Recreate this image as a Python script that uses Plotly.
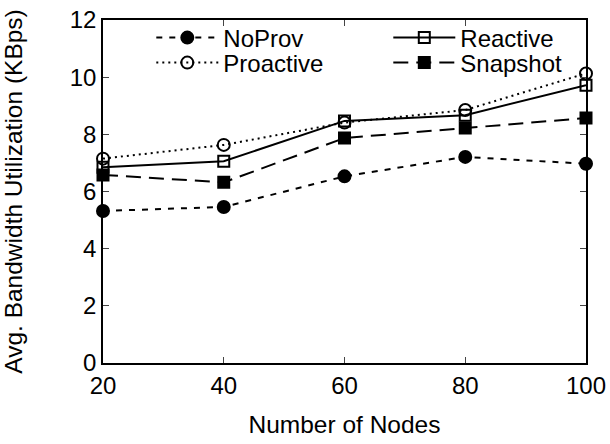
import plotly.graph_objects as go

nodes = [20, 40, 60, 80, 100]
noprov = [5.32, 5.46, 6.53, 7.21, 6.97]
reactive = [6.85, 7.06, 8.47, 8.67, 9.72]
proactive = [7.15, 7.63, 8.41, 8.85, 10.13]
snapshot = [6.58, 6.32, 7.87, 8.22, 8.57]

fig = go.Figure()
series = [
    ("NoProv", noprov, "6px,7px", "circle", 12, "legend"),
    ("Reactive", reactive, "solid", "square-open", 11, "legend"),
    ("Proactive", proactive, "2px,4px", "circle-open", 12, "legend2"),
    ("Snapshot", snapshot, "15px,8px", "square", 11, "legend2"),
]
for name, ys, dash, sym, sz, lg in series:
    fig.add_trace(go.Scatter(
        x=nodes, y=ys, name=name, mode="lines+markers", legend=lg,
        line=dict(color="black", width=2, dash=dash),
        marker=dict(symbol=sym, size=sz, color="black",
                    line=dict(color="black", width=2)),
        cliponaxis=False,
    ))

font = "Liberation Sans, Arial, sans-serif"
leg = dict(orientation="h", x=0.1, xanchor="left", yanchor="middle",
           entrywidth=160, entrywidthmode="pixels",
           font=dict(size=24), bgcolor="rgba(0,0,0,0)",
           itemwidth=62, tracegroupgap=0)
fig.update_layout(
    width=610, height=444,
    margin=dict(l=103, r=24, t=20, b=81, autoexpand=False),
    plot_bgcolor="white", paper_bgcolor="white",
    font=dict(family=font, size=24, color="black"),
    showlegend=True,
    legend=dict(leg, y=0.9475),
    legend2=dict(leg, y=0.8746),
    xaxis=dict(range=[20, 100], tickvals=nodes, ticks="inside", ticklen=6,
               showline=True, linecolor="black", linewidth=1.5, mirror="ticks",
               showgrid=False, zeroline=False, ticklabeloverflow="allow",
               automargin=False,
               title=dict(text="Number of Nodes", standoff=18,
                          font=dict(size=24.5)),
               tickfont=dict(size=24)),
    yaxis=dict(range=[0, 12], dtick=2, ticks="inside", ticklen=6,
               showline=True, linecolor="black", linewidth=1.5, mirror="ticks",
               showgrid=False, zeroline=False, automargin=False,
               title=dict(text="Avg. Bandwidth Utilization (KBps)", standoff=40,
                          font=dict(size=24.5)),
               tickfont=dict(size=24)),
)
fig.write_html("out.html")
